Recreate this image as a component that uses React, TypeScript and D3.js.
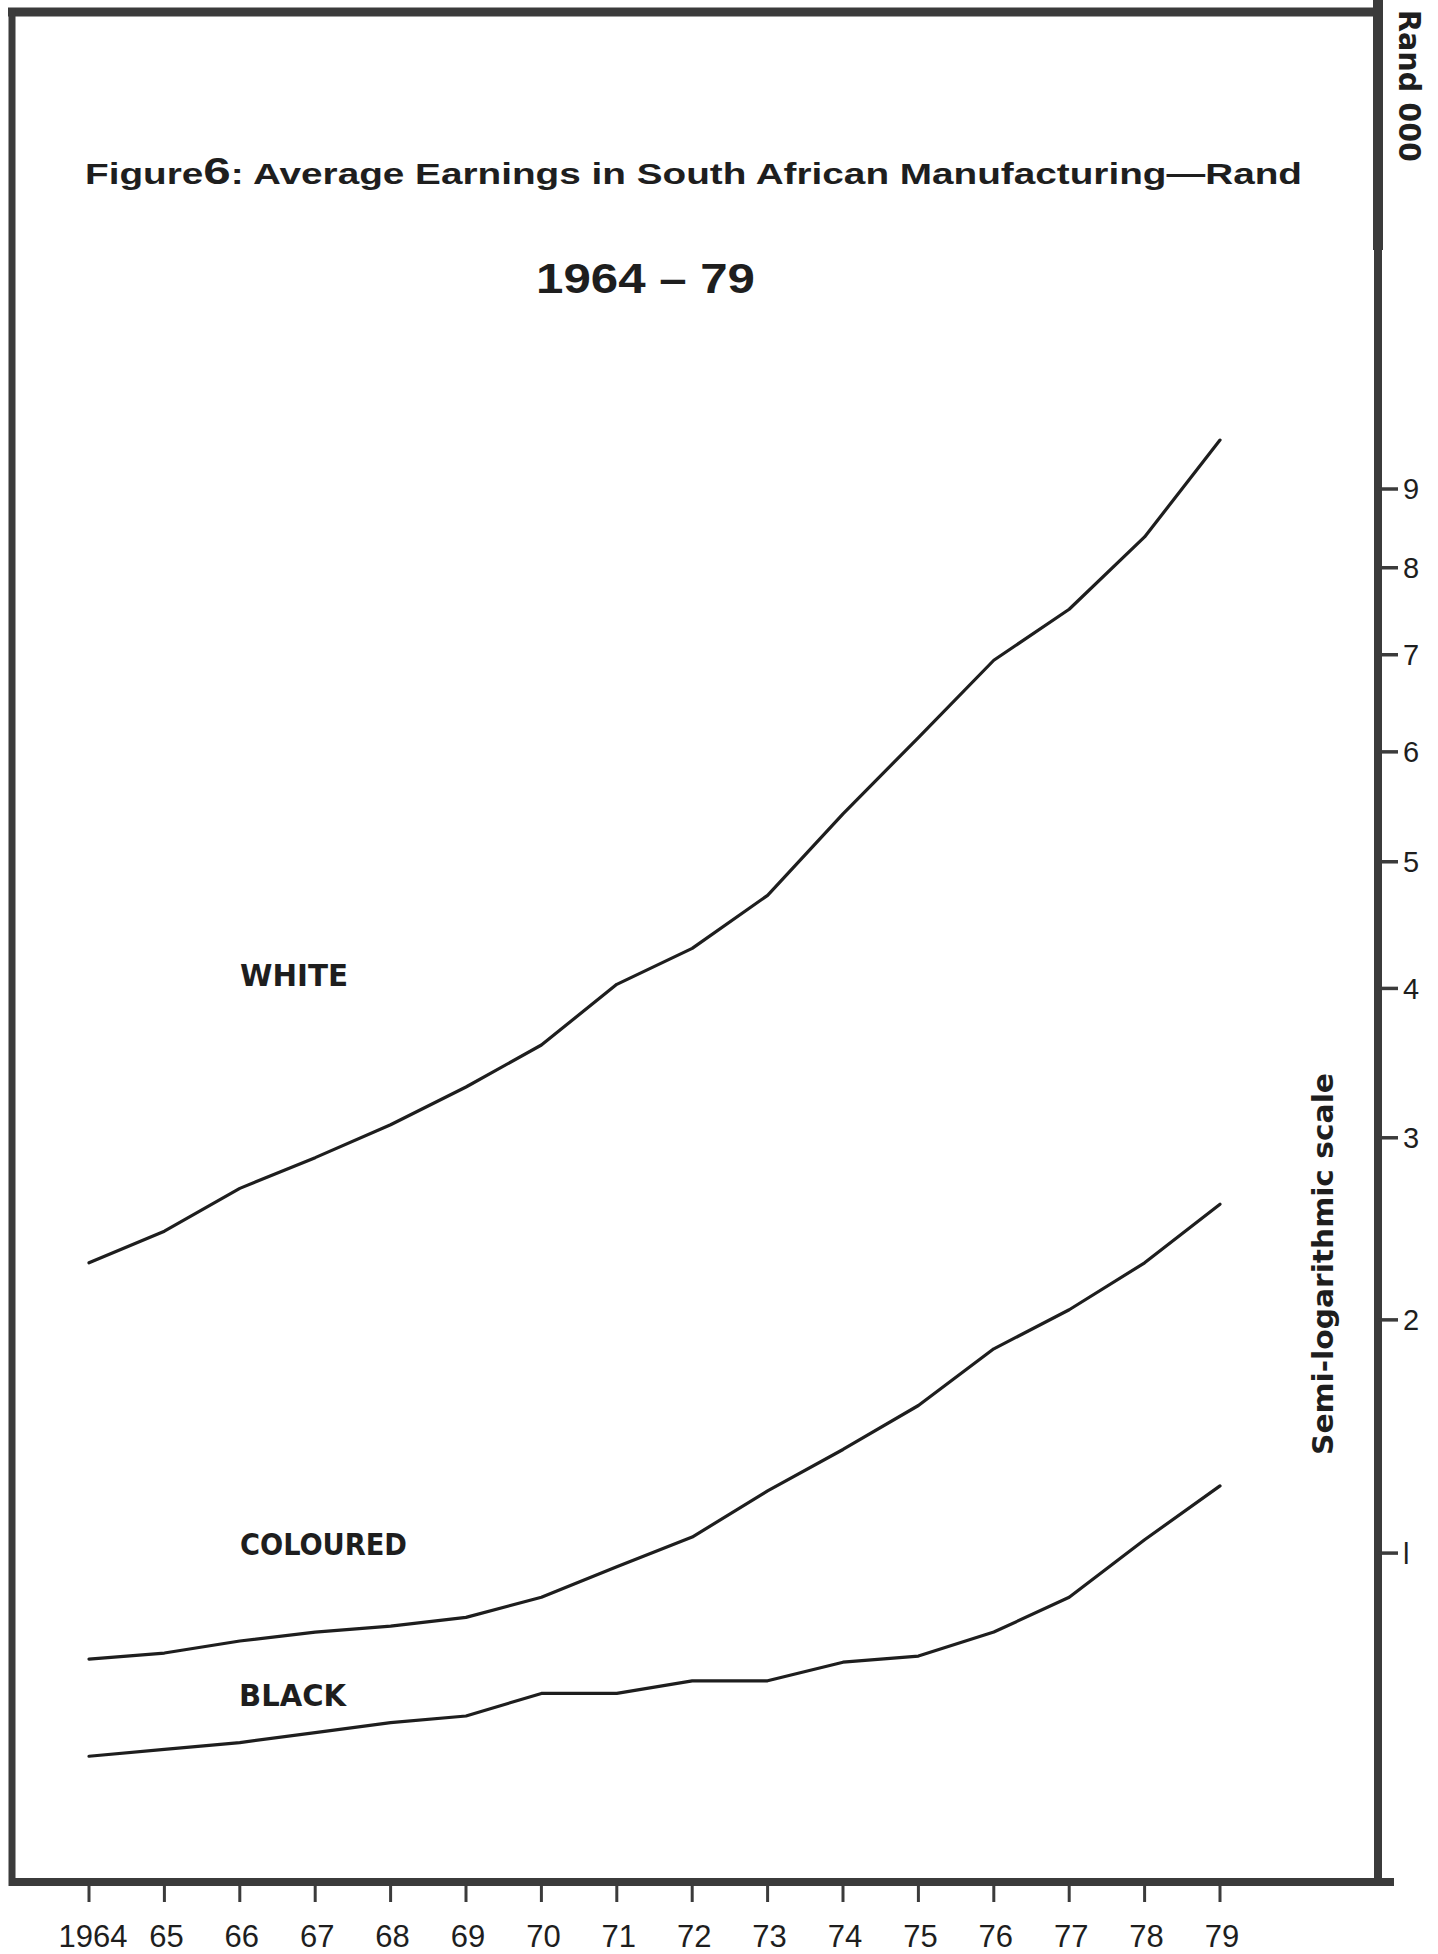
import React, { useEffect } from "react";
import * as d3 from "d3";

// ---- data (values in Rand '000) ----
const years = [1964, 1965, 1966, 1967, 1968, 1969, 1970, 1971, 1972, 1973, 1974, 1975, 1976, 1977, 1978, 1979];
const xTickLabels = ["1964", "65", "66", "67", "68", "69", "70", "71", "72", "73", "74", "75", "76", "77", "78", "79"];
const white = [2.29, 2.46, 2.7, 2.88, 3.08, 3.32, 3.6, 4.03, 4.3, 4.72, 5.42, 6.14, 6.94, 7.51, 8.38, 9.67];
const coloured = [0.63, 0.65, 0.69, 0.72, 0.74, 0.77, 0.84, 0.95, 1.06, 1.24, 1.41, 1.6, 1.86, 2.05, 2.29, 2.61];
const black = [0.33, 0.35, 0.37, 0.4, 0.43, 0.45, 0.52, 0.52, 0.56, 0.56, 0.62, 0.64, 0.72, 0.84, 1.05, 1.26];
const yTicks = [1, 2, 3, 4, 5, 6, 7, 8, 9];
const yTickLabels = ["l", "2", "3", "4", "5", "6", "7", "8", "9"];
const seriesNames = ["WHITE", "COLOURED", "BLACK"];

const W = 1438;
const H = 1954;
const frame = { left: 12, right: 1378, top: 12, bottom: 1882 };

export default function App() {
  useEffect(() => {
    document.body.style.margin = "0";
  }, []);

  const x = d3.scaleLinear().domain([1964, 1979]).range([89, 1220]);
  const y = d3.scaleSymlog().constant(2.1).domain([0, 9]).range([1878, 489]);

  const line = d3
    .line<number>()
    .x((_, i) => x(years[i]))
    .y((d) => y(d))
    .curve(d3.curveLinear);

  const series = [white, coloured, black];
  const ink = "#1e1e1e";
  const frameInk = "#3b3b3b";
  const condensed = "'DejaVu Sans Condensed', 'Liberation Sans Narrow', 'DejaVu Sans', sans-serif";
  const helv = "'Liberation Sans', Arial, Helvetica, sans-serif";

  const labelPos = [
    { x: 240, y: 986, len: 108 },
    { x: 240, y: 1555, len: 167 },
    { x: 239, y: 1706, len: 107 },
  ];

  return (
    <svg
      width={W}
      height={H}
      viewBox={`0 0 ${W} ${H}`}
      style={{ position: "absolute", left: 0, top: 0, background: "#fff" }}
    >
      <rect x={0} y={0} width={W} height={H} fill="#fff" />

      {/* frame */}
      <line x1={frame.left - 4} x2={frame.right + 4} y1={frame.top} y2={frame.top} stroke={frameInk} strokeWidth={9} />
      <line x1={frame.left} x2={frame.left} y1={frame.top - 4} y2={frame.bottom + 4} stroke={frameInk} strokeWidth={7} />
      <line x1={frame.left - 3} x2={frame.right + 16} y1={frame.bottom} y2={frame.bottom} stroke={frameInk} strokeWidth={8} />
      <line x1={frame.right} x2={frame.right} y1={4} y2={frame.bottom + 4} stroke={frameInk} strokeWidth={8} />
      <line x1={frame.right} x2={frame.right} y1={0} y2={250} stroke={frameInk} strokeWidth={10} />

      {/* right (semi-log) axis */}
      {yTicks.map((t, i) => (
        <g key={"yt" + t}>
          <line x1={frame.right} x2={frame.right + 20} y1={y(t)} y2={y(t)} stroke={frameInk} strokeWidth={3.5} />
          <text
            x={frame.right + 25}
            y={y(t)}
            dy="0.36em"
            fontFamily={helv}
            fontSize={29}
            fill={ink}
          >
            {yTickLabels[i]}
          </text>
        </g>
      ))}

      {/* bottom axis */}
      {years.map((yr, i) => (
        <g key={"xt" + yr}>
          <line x1={x(yr)} x2={x(yr)} y1={frame.bottom} y2={frame.bottom + 20} stroke={frameInk} strokeWidth={3} />
          <text
            x={x(yr) + (i === 0 ? 4 : 2)}
            y={1947}
            textAnchor="middle"
            fontFamily={helv}
            fontSize={31}
            fill={ink}
          >
            {xTickLabels[i]}
          </text>
        </g>
      ))}

      {/* series lines */}
      {series.map((s, i) => (
        <path key={seriesNames[i]} d={line(s) || ""} fill="none" stroke={ink} strokeWidth={3.2} strokeLinejoin="round" strokeLinecap="round" />
      ))}

      {/* series labels */}
      {seriesNames.map((n, i) => (
        <text
          key={"lab" + n}
          x={labelPos[i].x}
          y={labelPos[i].y}
          fontFamily={condensed}
          fontWeight="bold"
          fontSize={31}
          fill={ink}
          textLength={labelPos[i].len}
          lengthAdjust="spacingAndGlyphs"
        >
          {n}
        </text>
      ))}

      {/* titles */}
      <text
        x={85}
        y={184}
        fontFamily={helv}
        fontWeight="bold"
        fontSize={29}
        fill={ink}
        textLength={1217}
        lengthAdjust="spacingAndGlyphs"
      >
        <tspan>Figure</tspan>
        <tspan fontSize={37}>6</tspan>
        <tspan>: Average Earnings in South African Manufacturing—Rand</tspan>
      </text>
      <text
        x={536}
        y={293}
        fontFamily={helv}
        fontWeight="bold"
        fontSize={42}
        fill={ink}
        textLength={219}
        lengthAdjust="spacingAndGlyphs"
      >
        1964 – 79
      </text>

      {/* rotated axis captions */}
      <text
        transform="translate(1399,10) rotate(90)"
        fontFamily={condensed}
        fontWeight="bold"
        fontSize={30}
        fill={ink}
        textLength={152}
        lengthAdjust="spacingAndGlyphs"
      >
        Rand  000
      </text>
      <text
        transform="translate(1333,1455) rotate(-90)"
        fontFamily={condensed}
        fontWeight="bold"
        fontSize={29}
        fill={ink}
        textLength={382}
        lengthAdjust="spacingAndGlyphs"
      >
        Semi-logarithmic scale
      </text>
    </svg>
  );
}
